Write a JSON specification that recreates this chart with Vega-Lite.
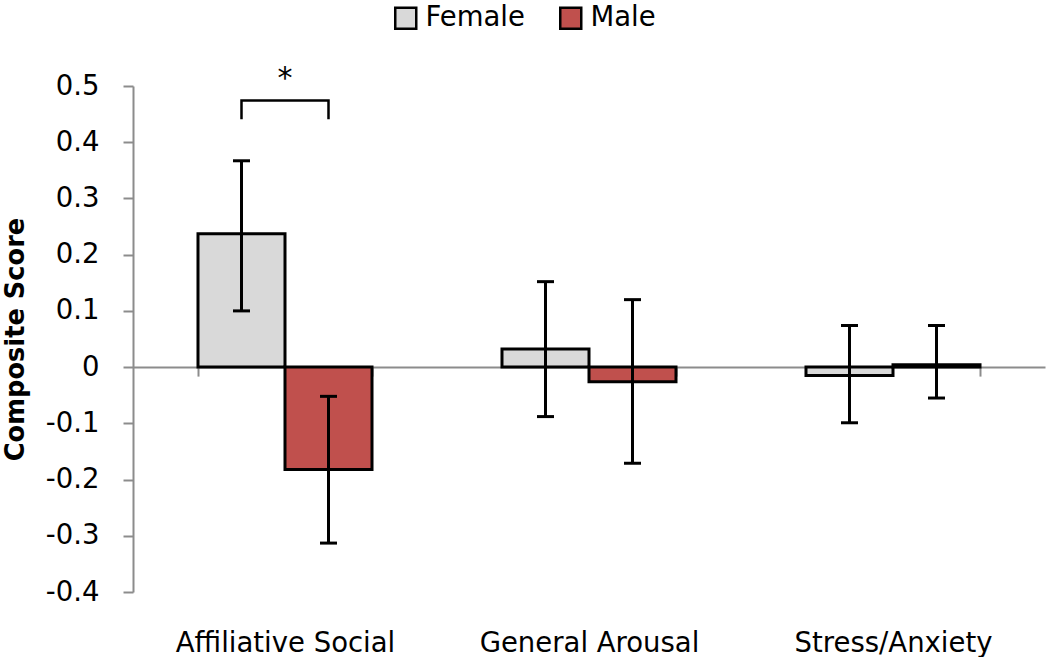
{
  "$schema": "https://vega.github.io/schema/vega-lite/v6.json",
  "width": 912,
  "height": 506,
  "padding": {"left": 2, "top": 4, "right": 5, "bottom": 0},
  "background": "white",
  "config": {"view": {"stroke": null}, "font": "DejaVu Sans"},
  "datasets": {
    "scores": [
      {"cat": "Affiliative Social", "sex": "Female", "mean": 0.237, "lo": 0.100, "hi": 0.367},
      {"cat": "Affiliative Social", "sex": "Male", "mean": -0.182, "lo": -0.313, "hi": -0.052},
      {"cat": "General Arousal", "sex": "Female", "mean": 0.032, "lo": -0.088, "hi": 0.152},
      {"cat": "General Arousal", "sex": "Male", "mean": -0.026, "lo": -0.171, "hi": 0.120},
      {"cat": "Stress/Anxiety", "sex": "Female", "mean": -0.015, "lo": -0.099, "hi": 0.074},
      {"cat": "Stress/Anxiety", "sex": "Male", "mean": 0.004, "lo": -0.055, "hi": 0.074}
    ],
    "bracket": [
      {"cat": "Affiliative Social", "sex": "Female", "by": 0.441, "o": 1},
      {"cat": "Affiliative Social", "sex": "Female", "by": 0.474, "o": 2},
      {"cat": "Affiliative Social", "sex": "Male", "by": 0.474, "o": 3},
      {"cat": "Affiliative Social", "sex": "Male", "by": 0.441, "o": 4}
    ],
    "star": [
      {"cat": "Affiliative Social", "sy": 0.497, "t": "*"}
    ]
  },
  "layer": [
    {
      "data": {"name": "scores"},
      "mark": {"type": "bar", "stroke": "black", "strokeWidth": 3},
      "encoding": {
        "x": {
          "field": "cat", "type": "nominal",
          "sort": ["Affiliative Social", "General Arousal", "Stress/Anxiety"],
          "scale": {"paddingInner": 0.4276, "paddingOuter": 0.2138},
          "axis": {
            "title": null, "orient": "bottom", "offset": -224.9,
            "domainColor": "#8c8c8c", "domainWidth": 2,
            "tickBand": "extent", "tickSize": 9, "tickWidth": 2, "tickColor": "#8c8c8c",
            "labelFont": "DejaVu Sans", "labelFontSize": 27.5, "labelColor": "black",
            "labelPadding": 253, "labelAngle": 0, "labelLimit": 0, "grid": false
          }
        },
        "xOffset": {"field": "sex", "type": "nominal", "sort": ["Female", "Male"], "scale": {"paddingInner": 0, "paddingOuter": 0}},
        "y": {
          "field": "mean", "type": "quantitative", "title": "Composite Score",
          "scale": {"domain": [-0.4, 0.5], "nice": false, "zero": false},
          "axis": {
            "values": [-0.4, -0.3, -0.2, -0.1, 0, 0.1, 0.2, 0.3, 0.4, 0.5],
            "labelExpr": "datum.value == 0 ? '0' : (datum.value < 0 ? '-' + format(-datum.value, '.1f') : format(datum.value, '.1f'))",
            "grid": false,
            "domainColor": "#8c8c8c", "domainWidth": 2,
            "tickColor": "#8c8c8c", "tickWidth": 2, "tickSize": 10,
            "labelFont": "DejaVu Sans", "labelFontSize": 27.5, "labelColor": "black", "labelPadding": 24,
            "titleFont": "DejaVu Sans", "titleFontSize": 25.7, "titleFontWeight": "bold", "titleColor": "black", "titlePadding": 17
          }
        },
        "color": {
          "field": "sex", "type": "nominal",
          "scale": {"domain": ["Female", "Male"], "range": ["#d9d9d9", "#c0504d"]},
          "legend": {
            "orient": "none", "legendX": 259, "legendY": -82, "direction": "horizontal", "title": null,
            "symbolType": "square", "symbolSize": 441, "symbolStrokeColor": "black", "symbolStrokeWidth": 2.5,
            "symbolOpacity": 1,
            "labelFont": "DejaVu Sans", "labelFontSize": 27.5, "labelColor": "black", "labelOffset": 6,
            "columnPadding": 30, "padding": 0
          }
        }
      }
    },
    {
      "data": {"name": "scores"},
      "mark": {"type": "rule", "strokeWidth": 3, "color": "black"},
      "encoding": {
        "x": {"field": "cat", "type": "nominal", "sort": ["Affiliative Social", "General Arousal", "Stress/Anxiety"]},
        "xOffset": {"field": "sex", "type": "nominal", "sort": ["Female", "Male"]},
        "y": {"field": "lo", "type": "quantitative", "title": "Composite Score"},
        "y2": {"field": "hi"}
      }
    },
    {
      "data": {"name": "scores"},
      "mark": {"type": "tick", "orient": "horizontal", "size": 17, "thickness": 3, "color": "black", "opacity": 1},
      "encoding": {
        "x": {"field": "cat", "type": "nominal", "sort": ["Affiliative Social", "General Arousal", "Stress/Anxiety"]},
        "xOffset": {"field": "sex", "type": "nominal", "sort": ["Female", "Male"]},
        "y": {"field": "lo", "type": "quantitative", "title": "Composite Score"}
      }
    },
    {
      "data": {"name": "scores"},
      "mark": {"type": "tick", "orient": "horizontal", "size": 17, "thickness": 3, "color": "black", "opacity": 1},
      "encoding": {
        "x": {"field": "cat", "type": "nominal", "sort": ["Affiliative Social", "General Arousal", "Stress/Anxiety"]},
        "xOffset": {"field": "sex", "type": "nominal", "sort": ["Female", "Male"]},
        "y": {"field": "hi", "type": "quantitative", "title": "Composite Score"}
      }
    },
    {
      "data": {"name": "bracket"},
      "mark": {"type": "line", "color": "black", "strokeWidth": 2.5},
      "encoding": {
        "x": {"field": "cat", "type": "nominal", "sort": ["Affiliative Social", "General Arousal", "Stress/Anxiety"]},
        "xOffset": {"field": "sex", "type": "nominal", "sort": ["Female", "Male"]},
        "y": {"field": "by", "type": "quantitative", "title": "Composite Score"},
        "order": {"field": "o", "type": "quantitative"}
      }
    },
    {
      "data": {"name": "star"},
      "mark": {"type": "text", "fontSize": 30, "font": "DejaVu Sans", "color": "black", "baseline": "alphabetic"},
      "encoding": {
        "x": {"field": "cat", "type": "nominal", "sort": ["Affiliative Social", "General Arousal", "Stress/Anxiety"]},
        "y": {"field": "sy", "type": "quantitative", "title": "Composite Score"},
        "text": {"field": "t"}
      }
    }
  ]
}
